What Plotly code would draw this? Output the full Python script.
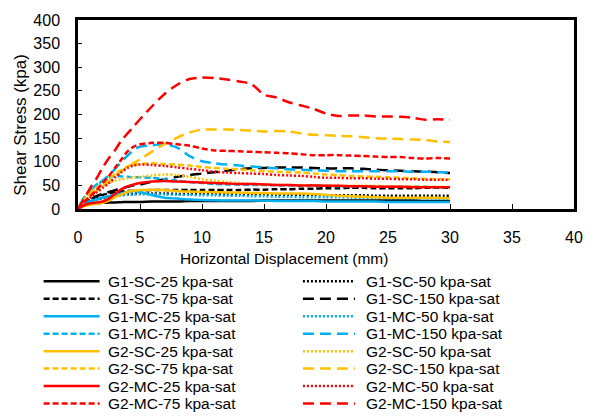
import plotly.graph_objects as go

# ---------------- data ----------------
X = [0, 0.5, 1, 1.5, 2, 2.5, 3, 3.5, 4, 4.5, 5,
     6, 7, 8, 9, 10, 11, 12, 13, 14,
     15, 16, 17, 18, 19, 20, 21, 22, 23, 24, 25, 26, 27, 28, 29, 30]

G1_SC_25 = [0, 8, 11, 12, 13, 13.5, 14, 14.5, 15, 15, 15, 16, 16, 16, 17, 17, 17, 17, 17, 17, 18, 18, 18, 18, 18, 18, 18, 18, 18, 18, 18, 18, 18, 17, 17, 17]
G1_SC_50 = [0, 10, 16, 20, 23, 26, 28, 30, 31, 32, 33, 33, 33, 32, 32, 32, 32, 31, 31, 31, 31, 30, 30, 30, 30, 29, 29, 29, 29, 28, 28, 28, 28, 28, 28, 28]
G1_SC_75 = [0, 12, 20, 25, 30, 33, 36, 37, 38, 38.5, 39, 40, 40, 40, 40, 40, 40, 40, 40, 41, 41, 42, 42, 43, 43, 44, 44, 45, 45, 44, 44, 44, 44, 45, 45, 45]
G1_SC_150 = [0, 12, 20, 27, 32, 36, 40, 43, 47, 50, 52, 58, 63, 68, 72, 75, 78, 81, 84, 86, 87, 88, 88, 88, 87, 86, 86, 86, 85, 83, 82, 81, 80, 79, 78, 76]
G1_MC_25 = [0, 10, 16, 20, 24, 27, 30, 33, 36, 38, 36, 29, 24, 22, 20, 19, 18.5, 18, 18, 18, 17.5, 17, 17, 17, 17, 16, 16, 16, 16, 16, 15, 15, 15, 15, 15, 15]
G1_MC_50 = [0, 12, 18, 22, 25, 27, 28, 29, 30, 30.5, 31, 31, 31, 30, 30, 29, 29, 28, 28, 27, 27, 26, 26, 25, 25, 25, 25, 24, 24, 24, 23, 23, 23, 23, 22, 22]
G1_MC_75 = [0, 25, 40, 52, 60, 66, 70, 69, 68, 67, 67, 66, 63, 60, 57, 55, 53, 52, 52, 51, 51, 50, 50, 49, 49, 49, 48, 48, 48, 48, 47, 47, 47, 47, 46, 46]
G1_MC_150 = [0, 25, 40, 50, 60, 72, 85, 100, 113, 125, 132, 135, 137, 130, 112, 101, 97, 94, 92, 90, 88, 86, 84, 83, 82, 81, 80, 80, 80, 80, 80, 80, 79, 79, 78, 77]
G2_SC_25 = [0, 6, 9, 11, 13, 18, 25, 31, 36, 39, 40, 41, 40, 38, 37, 36, 35.5, 35, 34.5, 34, 34, 33, 33, 33, 32, 30, 28, 27, 26, 25, 24, 24, 24, 24, 24, 23]
G2_SC_50 = [0, 20, 35, 45, 52, 56, 60, 63, 65, 67, 68, 71, 73, 72, 68, 63, 60, 57, 55, 53, 52, 51, 51, 50, 50, 50, 49, 49, 49, 49, 48, 48, 48, 47, 47, 47]
G2_SC_75 = [0, 20, 35, 45, 55, 65, 75, 83, 90, 94, 95, 97, 95, 94, 92, 89, 87, 85, 84, 82, 80, 79, 78, 77, 75, 73, 72, 70, 69, 68, 67, 66, 65, 64, 63, 63]
G2_SC_150 = [0, 15, 28, 38, 48, 58, 70, 80, 88, 97, 105, 122, 138, 151, 162, 168, 168, 168, 167, 166, 164, 165, 164, 160, 157, 156, 155, 154, 152, 150, 149, 148, 147, 146, 143, 142]
G2_MC_25 = [0, 8, 12, 14, 16, 22, 32, 42, 48, 52, 55, 58, 59, 58, 57, 56, 55, 54, 53, 53, 52, 51, 51, 50, 50, 49, 49, 48, 48, 47, 47, 47, 46, 46, 46, 46]
G2_MC_50 = [0, 15, 25, 35, 45, 55, 67, 78, 87, 92, 94, 93, 91, 88, 85, 82, 79, 77, 76, 75, 74, 72, 71, 70, 68, 66, 66, 65, 65, 64, 64, 63, 63, 62, 62, 62]
G2_MC_75 = [0, 15, 28, 40, 55, 70, 88, 105, 122, 132, 137, 140, 140, 137, 134, 128, 124, 123, 122, 121, 120, 119, 118, 116, 114, 114, 114, 113, 112, 111, 110, 110, 108, 107, 108, 107]
G2_MC_150 = [0, 22, 45, 65, 88, 108, 125, 145, 160, 175, 190, 218, 244, 263, 275, 278, 277, 274, 270, 264, 242, 236, 226, 219, 212, 202, 197, 198, 198, 196, 196, 195, 193, 189, 190, 189]

X_TICKS = [0, 5, 10, 15, 20, 25, 30, 35, 40]
Y_TICKS = [0, 50, 100, 150, 200, 250, 300, 350, 400]
X_TITLE = "Horizontal Displacement (mm)"
Y_TITLE = "Shear Stress (kpa)"

SERIES = [
    ("G1", "SC", 25, G1_SC_25), ("G1", "SC", 50, G1_SC_50),
    ("G1", "SC", 75, G1_SC_75), ("G1", "SC", 150, G1_SC_150),
    ("G1", "MC", 25, G1_MC_25), ("G1", "MC", 50, G1_MC_50),
    ("G1", "MC", 75, G1_MC_75), ("G1", "MC", 150, G1_MC_150),
    ("G2", "SC", 25, G2_SC_25), ("G2", "SC", 50, G2_SC_50),
    ("G2", "SC", 75, G2_SC_75), ("G2", "SC", 150, G2_SC_150),
    ("G2", "MC", 25, G2_MC_25), ("G2", "MC", 50, G2_MC_50),
    ("G2", "MC", 75, G2_MC_75), ("G2", "MC", 150, G2_MC_150),
]

# ---------------- styles ----------------
COLORS = {("G1", "SC"): "#000000", ("G1", "MC"): "#00B0F0",
          ("G2", "SC"): "#FFC000", ("G2", "MC"): "#FF0000"}
DASHES = {25: "solid", 50: "2px,2px", 75: "6px,3px", 150: "11px,6px"}
FONT = "Liberation Sans, Arial, sans-serif"
LW = 2.5

W, H = 595, 419
PL, PR, PT, PB = 78, 583, 16, 209


def pxx(xp):
    return (xp - PL) / (PR - PL)


def pyy(yp):
    return (PB - yp) / (PB - PT)


fig = go.Figure()
shapes = []
annotations = []

for k, (g, t, p, vals) in enumerate(SERIES):
    name = f"{g}-{t}-{p} kpa-sat"
    col = COLORS[(g, t)]
    dash = DASHES[p]
    fig.add_trace(go.Scatter(
        x=X, y=vals, mode="lines", name=name,
        line=dict(color=col, width=LW, dash=dash, shape="spline", smoothing=0.8),
        showlegend=False))
    row, c = k // 2, k % 2
    yc = 282.7 + row * 17.86
    if c == 0:
        x0, x1, xt = 43, 100, 106
    else:
        x0, x1, xt = 307, 360, 369
    shapes.append(dict(type="line", xref="paper", yref="paper",
                       x0=pxx(x0), x1=pxx(x1), y0=pyy(yc), y1=pyy(yc),
                       line=dict(color=col, width=LW, dash=dash)))
    annotations.append(dict(xref="paper", yref="paper", x=pxx(xt), y=pyy(yc),
                            xanchor="left", yanchor="middle", showarrow=False,
                            text=name, font=dict(family=FONT, size=15.5, color="#000000")))

annotations.append(dict(xref="paper", yref="paper", x=pxx(288), y=pyy(260),
                        xanchor="center", yanchor="middle", showarrow=False,
                        text=X_TITLE, font=dict(family=FONT, size=15.5, color="#000000")))
annotations.append(dict(xref="paper", yref="paper", x=pxx(20), y=pyy(123),
                        xanchor="center", yanchor="middle", showarrow=False, textangle=-90,
                        text=Y_TITLE, font=dict(family=FONT, size=17, color="#000000")))

axis_common = dict(showgrid=False, zeroline=False, showline=True, linecolor="#000000",
                   linewidth=2.5, mirror=True, ticks="inside", tickcolor="#000000",
                   tickwidth=1, tickfont=dict(family=FONT, size=16, color="#000000"))

fig.update_xaxes(range=[0, 40], tickvals=X_TICKS, ticklen=5, ticklabelstandoff=12, **axis_common)
fig.update_yaxes(range=[0, 400], tickvals=Y_TICKS, ticklen=4, ticklabelstandoff=12, **axis_common)

fig.update_layout(
    width=W, height=H,
    margin=dict(l=PL, r=W - PR, t=PT, b=H - PB),
    paper_bgcolor="#FFFFFF", plot_bgcolor="#FFFFFF",
    showlegend=False, shapes=shapes, annotations=annotations,
    font=dict(family=FONT, color="#000000"),
)

fig.write_html("out.html")
